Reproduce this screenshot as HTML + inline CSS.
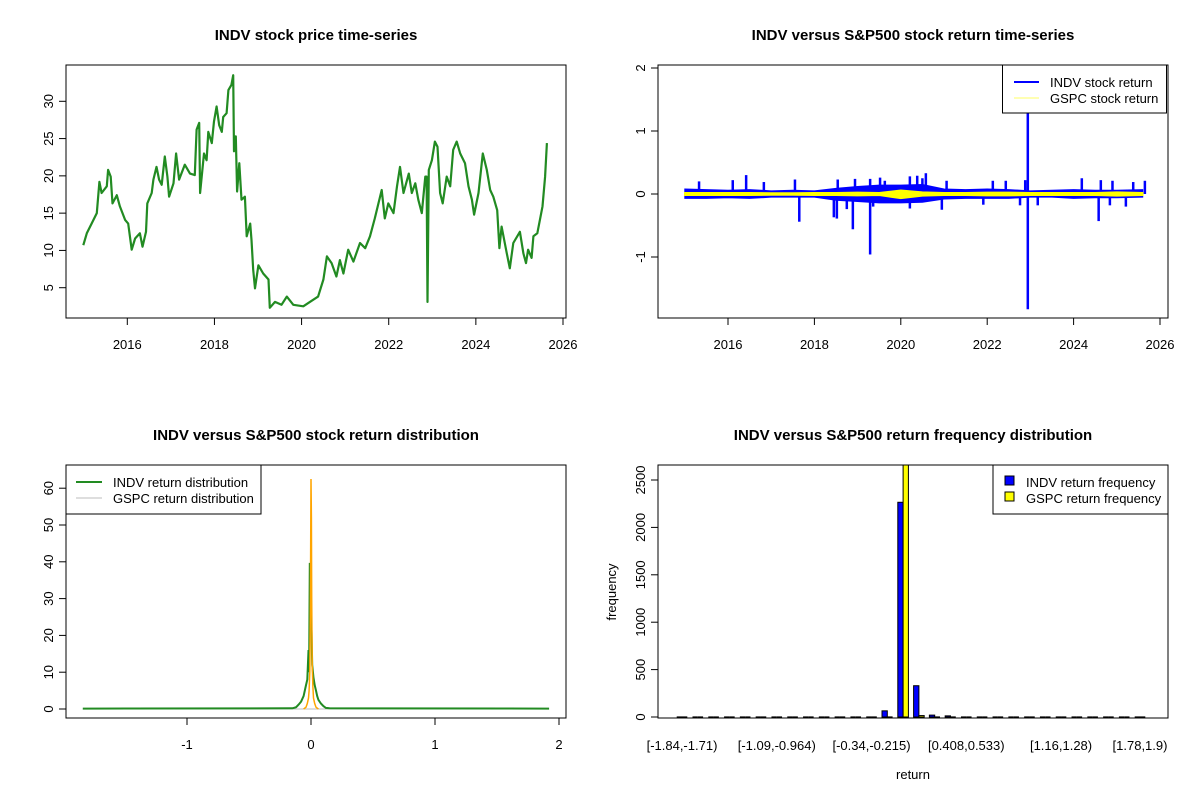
<!DOCTYPE html>
<html><head><meta charset="utf-8"><style>
html,body{margin:0;padding:0;background:#fff;}
svg{display:block;font-family:"Liberation Sans",Arial,sans-serif;}
text{fill:#000;}
</style></head><body>
<svg id="c" width="1200" height="800" viewBox="0 0 1200 800"></svg>
<script>
// ---------- DATA ----------
const priceYears=[2014.99,2015.07,2015.18,2015.30,2015.36,2015.41,2015.53,2015.56,2015.62,2015.66,2015.76,2015.83,2015.95,2016.02,2016.10,2016.18,2016.29,2016.35,2016.43,2016.46,2016.56,2016.60,2016.67,2016.73,2016.79,2016.86,2016.92,2016.96,2017.06,2017.12,2017.19,2017.32,2017.44,2017.55,2017.59,2017.65,2017.67,2017.76,2017.82,2017.86,2017.94,2017.99,2018.05,2018.11,2018.17,2018.20,2018.28,2018.32,2018.39,2018.43,2018.45,2018.49,2018.52,2018.57,2018.62,2018.70,2018.74,2018.82,2018.85,2018.89,2018.93,2019.01,2019.12,2019.24,2019.27,2019.39,2019.54,2019.66,2019.81,2020.04,2020.19,2020.38,2020.50,2020.58,2020.69,2020.80,2020.88,2020.96,2021.07,2021.19,2021.34,2021.46,2021.57,2021.68,2021.84,2021.91,2021.99,2022.11,2022.19,2022.26,2022.34,2022.46,2022.53,2022.61,2022.68,2022.76,2022.84,2022.87,2022.89,2022.92,2022.99,2023.06,2023.12,2023.18,2023.24,2023.33,2023.41,2023.48,2023.56,2023.64,2023.75,2023.83,2023.91,2023.96,2024.06,2024.16,2024.25,2024.33,2024.40,2024.49,2024.54,2024.59,2024.71,2024.78,2024.86,2025.01,2025.09,2025.15,2025.20,2025.28,2025.32,2025.41,2025.47,2025.53,2025.59,2025.63];
const priceValues=[10.7,12.3,13.6,15.0,19.2,17.7,18.6,20.8,19.9,16.3,17.4,15.9,14.1,13.6,10.1,11.6,12.3,10.5,12.5,16.3,17.7,19.5,21.2,19.5,18.8,22.6,19.9,17.2,19.0,23.0,19.5,21.5,20.3,20.1,26.2,27.1,17.7,23.0,22.1,25.9,24.4,27.3,29.3,26.8,25.9,27.9,28.4,31.5,32.2,33.5,23.3,25.3,17.9,21.7,16.8,17.2,11.9,13.6,11.4,7.4,4.9,8.0,6.9,6.1,2.3,3.1,2.7,3.8,2.7,2.5,3.1,3.8,6.1,9.2,8.3,6.5,8.7,6.9,10.1,8.5,11.0,10.3,11.9,14.3,18.1,14.3,16.3,15.0,18.6,21.2,17.7,20.3,17.7,19.0,16.8,15.0,19.9,19.9,3.1,20.8,22.1,24.6,23.9,17.7,16.3,19.9,18.6,23.5,24.6,23.0,21.7,18.6,16.8,14.8,17.7,23.0,20.8,18.1,17.2,15.4,10.3,13.2,9.6,7.6,11.0,12.5,9.6,8.3,10.1,9.0,11.9,12.3,14.1,15.9,19.9,24.4];

const spikeYears=[2015.33,2016.11,2016.42,2016.83,2017.55,2018.54,2018.94,2019.29,2019.52,2019.63,2020.21,2020.38,2020.50,2020.58,2021.06,2022.13,2022.43,2022.88,2022.94,2024.19,2024.63,2024.90,2025.38,2025.65,2017.65,2018.45,2018.52,2018.75,2018.89,2019.29,2019.36,2020.21,2020.95,2021.91,2022.76,2022.94,2023.17,2024.58,2024.84,2025.21];
const spikeReturns=[0.20,0.22,0.30,0.19,0.23,0.23,0.24,0.24,0.26,0.21,0.28,0.29,0.25,0.33,0.21,0.21,0.21,0.22,1.33,0.25,0.22,0.21,0.19,0.21,-0.44,-0.37,-0.39,-0.24,-0.56,-0.96,-0.20,-0.23,-0.25,-0.17,-0.18,-1.83,-0.18,-0.43,-0.18,-0.20];
const bandYears=[2015.0,2015.5,2016.0,2016.5,2017.0,2017.5,2018.0,2018.5,2019.0,2019.5,2020.0,2020.5,2021.0,2021.5,2022.0,2022.5,2023.0,2023.5,2024.0,2024.5,2025.0,2025.6];
const indvUpper=[0.08,0.07,0.06,0.07,0.05,0.06,0.05,0.09,0.12,0.14,0.14,0.15,0.08,0.07,0.08,0.07,0.05,0.06,0.07,0.06,0.06,0.07];
const indvLower=[-0.07,-0.07,-0.06,-0.07,-0.05,-0.05,-0.05,-0.10,-0.12,-0.14,-0.14,-0.13,-0.08,-0.07,-0.07,-0.07,-0.05,-0.05,-0.07,-0.06,-0.06,-0.05];
const gspcUpper=[0.02,0.02,0.02,0.02,0.015,0.015,0.02,0.02,0.025,0.02,0.06,0.03,0.02,0.02,0.025,0.025,0.02,0.02,0.02,0.02,0.03,0.02];
const gspcLower=[-0.02,-0.02,-0.02,-0.02,-0.015,-0.015,-0.02,-0.02,-0.025,-0.02,-0.07,-0.03,-0.02,-0.02,-0.025,-0.025,-0.02,-0.02,-0.02,-0.02,-0.03,-0.02];

const densX=[-1.84,-0.15,-0.12,-0.1,-0.08,-0.06,-0.05,-0.04,-0.03,-0.02,-0.015,-0.01,-0.005,0,0.005,0.01,0.02,0.03,0.04,0.05,0.06,0.08,0.1,0.12,0.15,1.92];
const indvDens=[0.1,0.2,0.5,1.2,2.0,3.5,5.0,6.5,8.0,16.0,10.0,39.7,22.0,27.0,20.6,12.0,8.5,6.5,5.0,3.5,2.5,1.5,0.8,0.3,0.2,0.1];
const gspcX=[-0.06,-0.04,-0.03,-0.02,-0.015,-0.01,-0.006,-0.003,0,0.003,0.006,0.01,0.015,0.02,0.03,0.04,0.06];
const gspcDens=[0,0.5,1.5,3.0,5.0,10.0,25.0,40.0,62.5,52.0,30.0,12.0,6.0,3.0,1.5,0.5,0];

const histLabels=["[-1.84,-1.71)","[-1.09,-0.964)","[-0.34,-0.215)","[0.408,0.533)","[1.16,1.28)","[1.78,1.9)"];
const histLabelGroups=[1,7,13,19,25,30];
const indvFreq=[0,0,0,0,0,0,0,0,0,0,0,10,0,65,2265,330,20,12,0,0,0,0,0,0,0,0,0,0,0,0];
const gspcFreq=[0,0,0,0,0,0,0,0,0,0,0,0,0,5,2700,15,0,0,0,0,0,0,0,0,0,0,0,0,0,0];

// ---------- HELPERS ----------
const svg=document.getElementById('c');
const NS='http://www.w3.org/2000/svg';
function mk(tag,attrs,parent,txt){const e=document.createElementNS(NS,tag);for(const k in attrs)e.setAttribute(k,attrs[k]);if(txt!==undefined)e.textContent=txt;(parent||svg).appendChild(e);return e;}
function grp(name){const g=mk('g',{});return g;}
function lin(d0,d1,r0,r1){return v=>r0+(v-d0)*(r1-r0)/(d1-d0);}
function title(txt,cx,y,name){const t=mk('text',{x:cx,y:y,'text-anchor':'middle','font-size':'15','font-weight':'bold'},svg,txt);}
function box(x0,y0,x1,y1,name){const r=mk('rect',{x:x0,y:y0,width:x1-x0,height:y1-y0,fill:'none',stroke:'#000','stroke-width':1});}
function xAxis(ticks,labels,sx,yb,name){const g=grp(name);mk('line',{x1:sx(ticks[0]),x2:sx(ticks[ticks.length-1]),y1:yb,y2:yb,stroke:'#000'},g);ticks.forEach((t,i)=>{mk('line',{x1:sx(t),x2:sx(t),y1:yb,y2:yb+7,stroke:'#000'},g);mk('text',{x:sx(t),y:yb+31,'text-anchor':'middle','font-size':'13'},g,labels[i]);});}
function yAxis(ticks,labels,sy,xb,name){const g=grp(name);mk('line',{x1:xb,x2:xb,y1:sy(ticks[0]),y2:sy(ticks[ticks.length-1]),stroke:'#000'},g);ticks.forEach((t,i)=>{mk('line',{x1:xb-7,x2:xb,y1:sy(t),y2:sy(t),stroke:'#000'},g);const tx=xb-13,ty=sy(t);mk('text',{x:tx,y:ty,'text-anchor':'middle','font-size':'13',transform:`rotate(-90 ${tx} ${ty})`},g,labels[i]);});}

// ---------- PANEL 1: price ----------
title('INDV stock price time-series',316,40,'price-title');
const p1x=lin(2016,2026,127.3,563),p1y=lin(30,5,101.3,287.7);
const g1=grp('price-line');
mk('polyline',{points:priceYears.map((y,i)=>p1x(y).toFixed(1)+','+p1y(priceValues[i]).toFixed(1)).join(' '),fill:'none',stroke:'#228B22','stroke-width':2.2,'stroke-linejoin':'round'},g1);
box(66,65,566,318,'price-plot-frame');
xAxis([2016,2018,2020,2022,2024,2026],['2016','2018','2020','2022','2024','2026'],p1x,318,'price-x-axis');
yAxis([5,10,15,20,25,30],['5','10','15','20','25','30'],p1y,66,'price-y-axis');

// ---------- PANEL 2: returns ----------
title('INDV versus S&P500 stock return time-series',913,40,'return-title');
const p2x=lin(2016,2026,728,1160),p2y=lin(0,1,194,131);
const g2=grp('indv-return-series');
const bandPts=bandYears.map((y,i)=>p2x(y)+','+p2y(indvUpper[i])).concat(bandYears.slice().reverse().map((y,i)=>p2x(y)+','+p2y(indvLower[bandYears.length-1-i])));
mk('polygon',{points:bandPts.join(' '),fill:'#0000FF',stroke:'#0000FF','stroke-width':1},g2);
spikeYears.forEach((y,i)=>{const r=mk('line',{x1:p2x(y),x2:p2x(y),y1:p2y(0),y2:p2y(spikeReturns[i]),stroke:'#0000FF','stroke-width':2.5},g2);});
const g2b=grp('gspc-return-series');
const gPts=bandYears.map((y,i)=>p2x(y)+','+p2y(gspcUpper[i])).concat(bandYears.slice().reverse().map((y,i)=>p2x(y)+','+p2y(gspcLower[bandYears.length-1-i])));
mk('polygon',{points:gPts.join(' '),fill:'#FFFF00',stroke:'#FFFF00','stroke-width':1.5},g2b);
box(658,65,1168,318,'return-plot-frame');
xAxis([2016,2018,2020,2022,2024,2026],['2016','2018','2020','2022','2024','2026'],p2x,318,'return-x-axis');
yAxis([-1,0,1,2],['-1','0','1','2'],p2y,658,'return-y-axis');
const lg2=grp('return-legend');
mk('rect',{x:1002.5,y:65,width:164,height:48,fill:'#fff',stroke:'#000'},lg2);
mk('line',{x1:1014,x2:1039,y1:82,y2:82,stroke:'#0000FF','stroke-width':2},lg2);
mk('line',{x1:1014,x2:1039,y1:98,y2:98,stroke:'#FFFF66','stroke-width':1},lg2);
mk('text',{x:1050,y:87,'font-size':'13'},lg2,'INDV stock return');
mk('text',{x:1050,y:103,'font-size':'13'},lg2,'GSPC stock return');

// ---------- PANEL 3: distribution ----------
title('INDV versus S&P500 stock return distribution',316,440,'distribution-title');
const p3x=lin(0,1,311,435),p3y=lin(0,10,709,672.2);
const g3=grp('distribution-lines');
mk('line',{x1:p3x(-1.84),x2:p3x(1.92),y1:p3y(0),y2:p3y(0),stroke:'#BEBEBE','stroke-width':1},g3);
mk('polyline',{points:densX.map((x,i)=>p3x(x).toFixed(1)+','+p3y(indvDens[i]).toFixed(1)).join(' '),fill:'none',stroke:'#228B22','stroke-width':2},g3);
mk('polyline',{points:gspcX.map((x,i)=>p3x(x).toFixed(1)+','+p3y(gspcDens[i]).toFixed(1)).join(' '),fill:'none',stroke:'#FFA500','stroke-width':1.5},g3);
box(66,465,566,718,'distribution-plot-frame');
xAxis([-1,0,1,2],['-1','0','1','2'],p3x,718,'distribution-x-axis');
yAxis([0,10,20,30,40,50,60],['0','10','20','30','40','50','60'],p3y,66,'distribution-y-axis');
const lg3=grp('distribution-legend');
mk('rect',{x:66,y:465,width:195,height:49,fill:'#fff',stroke:'#000'},lg3);
mk('line',{x1:76,x2:102,y1:482,y2:482,stroke:'#228B22','stroke-width':2},lg3);
mk('line',{x1:76,x2:102,y1:498,y2:498,stroke:'#BEBEBE','stroke-width':1},lg3);
mk('text',{x:113,y:487,'font-size':'13'},lg3,'INDV return distribution');
mk('text',{x:113,y:503,'font-size':'13'},lg3,'GSPC return distribution');

// ---------- PANEL 4: histogram ----------
title('INDV versus S&P500 return frequency distribution',913,440,'frequency-title');
const gc=lin(1,30,682,1140),p4y=lin(0,2500,717,480);const bw=5.3;
const g4=grp('frequency-bars');
const clip=mk('clipPath',{id:'hc'});mk('rect',{x:658,y:465,width:510,height:253},clip);
g4.setAttribute('clip-path','url(#hc)');
function bar(x,v,col){const h=p4y(0)-p4y(v);let e;if(h<1){e=mk('line',{x1:x,x2:x+bw,y1:p4y(0),y2:p4y(0),stroke:'#000','stroke-width':1.2},g4);}else{e=mk('rect',{x:x,y:p4y(v),width:bw,height:h,fill:col,stroke:'#000','stroke-width':1},g4);}}
indvFreq.forEach((v,i)=>{const c=gc(i+1);bar(c-bw,v,'#0000FF');bar(c,gspcFreq[i],'#FFFF00');});
box(658,465,1168,718,'frequency-plot-frame');
yAxis([0,500,1000,1500,2000,2500],['0','500','1000','1500','2000','2500'],p4y,658,'frequency-y-axis');
const gl=grp('frequency-x-labels');
histLabels.forEach((l,i)=>mk('text',{x:gc(histLabelGroups[i]),y:750,'text-anchor':'middle','font-size':'13'},gl,l));
const yt=mk('text',{x:616,y:592,'text-anchor':'middle','font-size':'13',transform:'rotate(-90 616 592)'},svg,'frequency');

const xt=mk('text',{x:913,y:779,'text-anchor':'middle','font-size':'13'},svg,'return');

const lg4=grp('frequency-legend');
mk('rect',{x:993,y:465,width:175,height:49,fill:'#fff',stroke:'#000'},lg4);
mk('rect',{x:1005,y:476,width:9,height:9,fill:'#0000FF',stroke:'#000'},lg4);
mk('rect',{x:1005,y:492,width:9,height:9,fill:'#FFFF00',stroke:'#000'},lg4);
mk('text',{x:1026,y:487,'font-size':'13'},lg4,'INDV return frequency');
mk('text',{x:1026,y:503,'font-size':'13'},lg4,'GSPC return frequency');
</script>
</body></html>
